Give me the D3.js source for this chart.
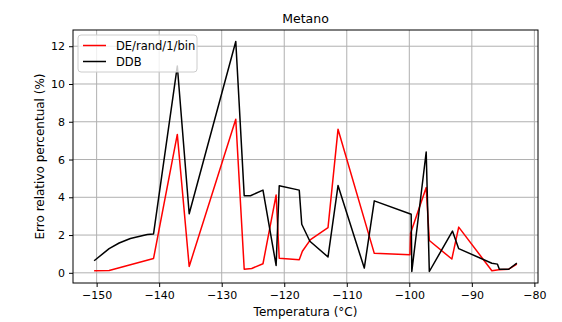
<!DOCTYPE html>
<html lang="pt">
<head>
<meta charset="UTF-8">
<title>Metano</title>
<script src="https://cdnjs.cloudflare.com/ajax/libs/d3/7.8.5/d3.min.js"></script>
<style>
    body { margin: 0; background: #fff; }
    svg text { font-family: "DejaVu Sans", sans-serif; fill: #000; }
</style>
</head>
<body>
<svg id="chart" width="562" height="322"></svg>
<script>
// DE/rand/1/bin
const tempDE = [-150.4, -148.0, -140.9, -137.1, -135.2, -127.75, -126.4, -125.2, -123.4, -121.3,
    -120.8, -117.6, -117.1, -115.8, -113.0, -111.4, -105.6, -99.9, -99.8, -97.3,
    -96.8, -93.2, -92.1, -86.8, -85.7, -84.1, -82.8];
const erroDE = [0.11, 0.12, 0.76, 7.33, 0.34, 8.13, 0.19, 0.23, 0.48, 4.12,
    0.77, 0.69, 1.14, 1.76, 2.39, 7.6, 1.03, 0.96, 2.1, 4.52,
    1.71, 0.73, 2.42, 0.11, 0.16, 0.19, 0.46];

// DDB
const tempDDB = [-150.4, -148.0, -146.4, -144.6, -141.9, -140.9, -137.1, -135.2, -127.75, -126.4,
    -125.4, -123.4, -121.3, -120.8, -117.6, -117.2, -115.9, -113.0, -111.4, -107.2,
    -105.6, -99.7, -99.6, -97.3, -96.8, -93.1, -92.1, -86.8, -85.9, -85.6,
    -84.1, -82.8];
const erroDDB = [0.64, 1.28, 1.58, 1.82, 2.03, 2.06, 10.95, 3.13, 12.25, 4.08,
    4.08, 4.38, 0.39, 4.61, 4.38, 2.57, 1.67, 0.84, 4.62, 0.25,
    3.81, 3.1, 0.07, 6.4, 0.07, 2.21, 1.28, 0.51, 0.46, 0.19,
    0.19, 0.51];

const xTicks = [-150, -140, -130, -120, -110, -100, -90, -80];
const yTicks = [0, 2, 4, 6, 8, 10, 12];

const series = [
    { name: "DE/rand/1/bin", x: tempDE, y: erroDE, color: "#ff0000" },
    { name: "DDB", x: tempDDB, y: erroDDB, color: "#000000" }
];

const margin = { left: 73, right: 24, top: 30, bottom: 39 };
const width = 562, height = 322;

const svg = d3.select("#chart");

// matplotlib-style 5% margins
const allX = tempDE.concat(tempDDB), allY = erroDE.concat(erroDDB);
const [x0, x1] = d3.extent(allX), [y0, y1] = d3.extent(allY);
const dx = (x1 - x0) * 0.05, dy = (y1 - y0) * 0.05;

const x = d3.scaleLinear().domain([x0 - dx, x1 + dx]).range([margin.left, width - margin.right]);
const y = d3.scaleLinear().domain([y0 - dy, y1 + dy]).range([height - margin.bottom, margin.top]);

// grid
svg.append("g")
    .selectAll("line.vx")
    .data(xTicks)
    .join("line")
    .attr("x1", d => x(d)).attr("x2", d => x(d))
    .attr("y1", margin.top).attr("y2", height - margin.bottom)
    .attr("stroke", "#b0b0b0").attr("stroke-width", 1);
svg.append("g")
    .selectAll("line.hy")
    .data(yTicks)
    .join("line")
    .attr("x1", margin.left).attr("x2", width - margin.right)
    .attr("y1", d => y(d)).attr("y2", d => y(d))
    .attr("stroke", "#b0b0b0").attr("stroke-width", 1);

// lines
const line = d3.line();
series.forEach(s => {
    svg.append("path")
        .datum(s.x.map((t, i) => [x(t), y(s.y[i])]))
        .attr("d", line)
        .attr("fill", "none")
        .attr("stroke", s.color)
        .attr("stroke-width", 1.5)
        .attr("stroke-linejoin", "round");
});

// axes
const xAxis = svg.append("g")
    .attr("transform", `translate(0,${height - margin.bottom})`)
    .call(d3.axisBottom(x).tickValues(xTicks).tickSize(4).tickPadding(4).tickFormat(d3.format("d")));
const yAxis = svg.append("g")
    .attr("transform", `translate(${margin.left},0)`)
    .call(d3.axisLeft(y).tickValues(yTicks).tickSize(4).tickPadding(4));
[xAxis, yAxis].forEach(a => {
    a.select(".domain").remove();
    a.selectAll("text").attr("font-size", 11).attr("font-family", "DejaVu Sans").attr("fill", "#222");
    a.selectAll("line").attr("stroke", "#000");
});

// frame
svg.append("rect")
    .attr("x", margin.left).attr("y", margin.top)
    .attr("width", width - margin.left - margin.right)
    .attr("height", height - margin.top - margin.bottom)
    .attr("fill", "none").attr("stroke", "#000").attr("stroke-width", 1);

// titles
svg.append("text")
    .attr("x", (margin.left + width - margin.right) / 2).attr("y", 23)
    .attr("text-anchor", "middle").attr("font-size", 12.5)
    .text("Metano");
svg.append("text")
    .attr("x", (margin.left + width - margin.right) / 2).attr("y", 316)
    .attr("text-anchor", "middle").attr("font-size", 12)
    .text("Temperatura (°C)");
svg.append("text")
    .attr("transform", `translate(44,${(margin.top + height - margin.bottom) / 2}) rotate(-90)`)
    .attr("text-anchor", "middle").attr("font-size", 12)
    .text("Erro relativo percentual (%)");

// legend
const lg = svg.append("g").attr("transform", "translate(78,35)");
lg.append("rect")
    .attr("width", 119).attr("height", 37).attr("rx", 3)
    .attr("fill", "#fff").attr("fill-opacity", 0.8)
    .attr("stroke", "#ccc").attr("stroke-width", 1);
series.forEach((s, i) => {
    const ly = 10.5 + i * 16;
    lg.append("line")
        .attr("x1", 5).attr("x2", 28).attr("y1", ly).attr("y2", ly)
        .attr("stroke", s.color).attr("stroke-width", 1.5);
    lg.append("text")
        .attr("x", 38).attr("y", ly + 4).attr("font-size", 11.5)
        .text(s.name);
});
</script>
</body>
</html>
